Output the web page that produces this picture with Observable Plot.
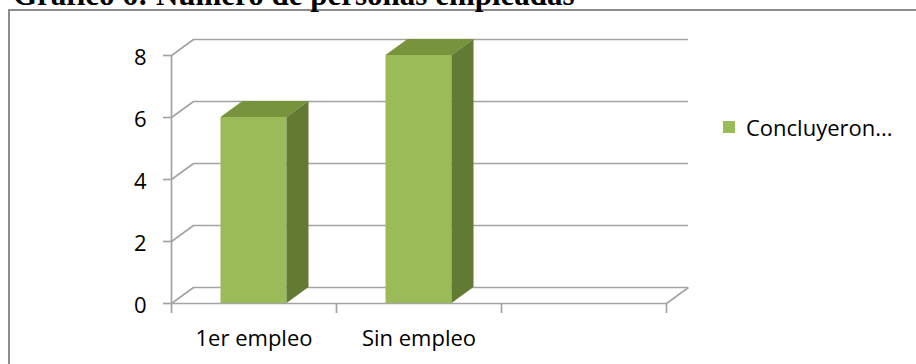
<!DOCTYPE html>
<html>
<head>
<meta charset="utf-8">
<script src="https://cdn.jsdelivr.net/npm/d3@7"></script>
<script src="https://cdn.jsdelivr.net/npm/@observablehq/plot@0.6"></script>
<style>
  html, body { margin: 0; padding: 0; background: #fff; }
  #wrap { position: relative; width: 916px; height: 364px; overflow: hidden; }
  #title { position: absolute; left: 13px; top: -21px; font: bold 31px "Liberation Serif", "Times New Roman", serif; line-height: 31px; white-space: nowrap; color: #000; z-index: 3; }
  #frame { position: absolute; left: 8px; top: 9px; width: 940px; height: 420px; border: 2px solid #8c8c8c; box-sizing: border-box; pointer-events: none; z-index: 2; }
  #legend { position: absolute; left: 723px; top: 110px; z-index: 3; }
  svg { display: block; }
</style>
</head>
<body>
<div id="wrap">
  <div id="title"></div>
  <div id="frame"></div>
  <div id="legend"></div>
</div>
<script>
const titleText = "Gráfico 6: Número de personas empleadas";
const categories = ["1er empleo", "Sin empleo", ""];
const values = [6, 8, null];
const seriesName = "Concluyeron...";
const yTicks = [0, 2, 4, 6, 8];

const W = 916, H = 364, ML = 171, MR = 250, MT = 55, MB = 61;
const DX = 22, DY = 16;              // 3-D depth offset, pixels
const kx = categories.length / (W - ML - MR);
const ky = d3.max(yTicks) / (H - MT - MB);
const ddx = DX * kx, ddy = DY * ky;
const HALF = 0.2;                    // half bar width, in band units
const FRONT = "#9BBB59", TOP = "#77933C", SIDE = "#627A34", GRID = "#a3a3a3";
const FONT = "Open Sans";

const bars = categories.map((c, i) => ({c, i, v: values[i]})).filter(d => d.v != null);
const tops = bars.flatMap(d => [
  {c: d.c, y: d.v, x1: d.i + 0.5 - HALF, x2: d.i + 0.5 + HALF},
  {c: d.c, y: d.v + ddy, x1: d.i + 0.5 - HALF + ddx, x2: d.i + 0.5 + HALF + ddx}
]);
const sides = bars.flatMap(d => [
  {c: d.c, x: d.i + 0.5 + HALF, y1: 0, y2: d.v},
  {c: d.c, x: d.i + 0.5 + HALF + ddx, y1: ddy, y2: d.v + ddy}
]);
const centers = categories.map((c, i) => i + 0.5);
const edges = d3.range(categories.length + 1);

const chart = Plot.plot({
  width: W, height: H,
  marginLeft: ML, marginRight: MR, marginTop: MT, marginBottom: MB,
  style: {fontFamily: FONT, fontSize: "22px", color: "#000", background: "transparent", overflow: "visible"},
  x: {domain: [0, categories.length], axis: null},
  y: {domain: [0, d3.max(yTicks)], axis: null},
  marks: [
    // back wall gridlines
    Plot.ruleY(yTicks, {x1: 0, x2: categories.length, dx: DX, dy: -DY, stroke: GRID, strokeWidth: 1.7}),
    // side wall diagonals
    Plot.link(yTicks, {x1: 0, y1: d => d, x2: ddx, y2: d => d + ddy, stroke: GRID, strokeWidth: 1.7}),
    Plot.link([0], {x1: categories.length, y1: 0, x2: categories.length + ddx, y2: ddy, stroke: GRID, strokeWidth: 1.7}),
    // front floor and axis lines
    Plot.ruleY([0], {x1: 0, x2: categories.length, stroke: GRID, strokeWidth: 1.7}),
    Plot.ruleX([0], {y1: 0, y2: d3.max(yTicks), stroke: GRID, strokeWidth: 1.7}),
    Plot.axisY({ticks: yTicks, tickSize: 8, tickFormat: () => "", stroke: GRID, strokeWidth: 1.7, strokeOpacity: 1}),
    Plot.axisY({ticks: yTicks, tickSize: 0, tickPadding: 25, dy: 2, fontSize: 22, fill: "#000"}),
    Plot.axisX({ticks: edges, tickSize: 10, tickFormat: () => "", stroke: GRID, strokeWidth: 1.7, strokeOpacity: 1}),
    Plot.axisX({ticks: centers, tickSize: 0, tickPadding: 27, tickFormat: d => categories[Math.floor(d)], fontSize: 22, fill: "#000"}),
    // bars: front, top, side faces
    Plot.rectY(bars, {x1: d => d.i + 0.5 - HALF, x2: d => d.i + 0.5 + HALF, y1: 0, y2: "v", fill: FRONT}),
    Plot.areaX(tops, {y: "y", x1: "x1", x2: "x2", z: "c", fill: TOP, curve: "linear"}),
    Plot.areaY(sides, {x: "x", y1: "y1", y2: "y2", z: "c", fill: SIDE, curve: "linear"})
  ]
});
chart.style.position = "absolute";
chart.style.left = "0px";
chart.style.top = "0px";
chart.style.zIndex = "1";
document.getElementById("wrap").appendChild(chart);
document.getElementById("title").textContent = titleText;

const legend = Plot.legend({
  color: {type: "categorical", domain: [seriesName], range: [FRONT]},
  swatchSize: 12,
  style: {fontFamily: FONT, fontSize: "22px", color: "#000"}
});
document.getElementById("legend").appendChild(legend);
</script>
</body>
</html>
